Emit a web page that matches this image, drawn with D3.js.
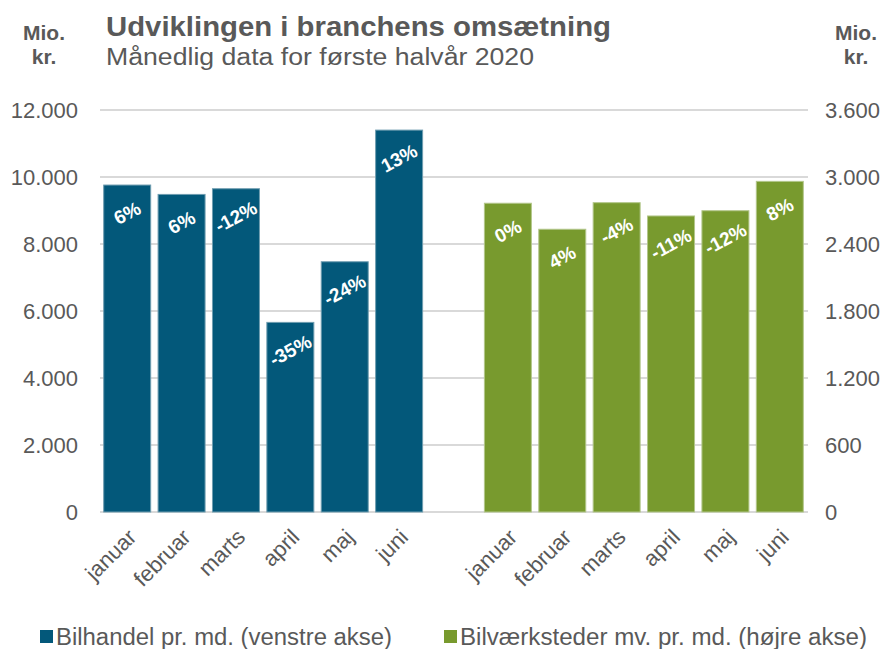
<!DOCTYPE html>
<html>
<head>
<meta charset="utf-8">
<script src="https://cdn.jsdelivr.net/npm/d3@7"></script>
<style>
  body { margin: 0; background: #fff; }
  text { font-family: "Liberation Sans", Arial, sans-serif; }
</style>
</head>
<body>
<div id="chart"></div>
<script>
// DATA
var months = ["januar", "februar", "marts", "april", "maj", "juni"];
var bilhandel = [9760, 9480, 9650, 5660, 7470, 11400];
var bilhandelPct = ["6%", "6%", "-12%", "-35%", "-24%", "13%"];
var vaerksted = [2765, 2532, 2770, 2651, 2698, 2961];
var vaerkstedPct = ["0%", "4%", "-4%", "-11%", "-12%", "8%"];
var leftTicks = [0, 2000, 4000, 6000, 8000, 10000, 12000];
var rightTicks = [0, 600, 1200, 1800, 2400, 3000, 3600];

var blue = "#03587a", green = "#789a2e", grey = "#595959";

var width = 888, height = 649;
var plot = {left: 100, right: 807, top: 110, bottom: 512};

var svg = d3.select("#chart").append("svg")
    .attr("width", width)
    .attr("height", height);

// build rows for both groups, one empty slot between them
var rows = [];
months.forEach(function(m, i) {
  rows.push({key: "L" + i, month: m, value: bilhandel[i], pct: bilhandelPct[i], side: "left"});
});
months.forEach(function(m, i) {
  rows.push({key: "R" + i, month: m, value: vaerksted[i], pct: vaerkstedPct[i], side: "right"});
});
var keys = rows.slice(0, 6).map(function(d) { return d.key; })
    .concat(["gap"])
    .concat(rows.slice(6).map(function(d) { return d.key; }));

var x = d3.scaleBand()
    .domain(keys)
    .range([plot.left, plot.right])
    .paddingInner(0.136)
    .paddingOuter(0.068);

var yL = d3.scaleLinear().domain([0, 12000]).range([plot.bottom, plot.top]);
var yR = d3.scaleLinear().domain([0, 3600]).range([plot.bottom, plot.top]);
var fmt = d3.formatLocale({decimal: ",", thousands: ".", grouping: [3], currency: ["", " kr."]}).format(",");

function yOf(d) { return d.side === "left" ? yL(d.value) : yR(d.value); }

// gridlines
svg.append("g")
    .selectAll("line")
    .data(leftTicks)
    .enter().append("line")
    .attr("x1", plot.left)
    .attr("x2", plot.right + 1)
    .attr("y1", function(d) { return yL(d); })
    .attr("y2", function(d) { return yL(d); })
    .style("stroke", "#d9d9d9")
    .style("stroke-width", 2);

// left axis
var axL = svg.append("g")
    .attr("transform", "translate(" + (plot.left - 22) + ",0)")
    .call(d3.axisLeft(yL).tickValues(leftTicks).tickFormat(fmt).tickSize(0).tickPadding(0));
axL.select(".domain").remove();
axL.selectAll("text")
    .style("font-size", "22px")
    .style("fill", grey)
    .attr("dy", "0.35em");

// right axis
var axR = svg.append("g")
    .attr("transform", "translate(" + (plot.right + 18) + ",0)")
    .call(d3.axisRight(yR).tickValues(rightTicks).tickFormat(fmt).tickSize(0).tickPadding(0));
axR.select(".domain").remove();
axR.selectAll("text")
    .style("font-size", "22px")
    .style("fill", grey)
    .attr("dy", "0.35em");

// bars
svg.selectAll(".bar")
    .data(rows)
    .enter().append("rect")
    .attr("class", "bar")
    .attr("x", function(d) { return x(d.key); })
    .attr("width", x.bandwidth())
    .attr("y", function(d) { return yOf(d); })
    .attr("height", function(d) { return plot.bottom - yOf(d); })
    .style("fill", function(d) { return d.side === "left" ? blue : green; })
    .style("stroke", function(d) { return d.side === "left" ? "#6f9db0" : "#b2c68a"; })
    .style("stroke-width", 1);

// percent labels
svg.selectAll(".pct")
    .data(rows)
    .enter().append("text")
    .attr("class", "pct")
    .attr("transform", function(d) {
      return "translate(" + (x(d.key) + x.bandwidth() / 2) + "," + (yOf(d) + 28) + ") rotate(-28)";
    })
    .attr("text-anchor", "middle")
    .attr("dy", "0.35em")
    .style("font-size", "19px")
    .style("font-weight", "bold")
    .style("fill", "#fff")
    .text(function(d) { return d.pct; });

// x labels
svg.selectAll(".xlab")
    .data(rows)
    .enter().append("text")
    .attr("class", "xlab")
    .attr("transform", function(d) {
      return "translate(" + (x(d.key) + x.bandwidth() / 2 + 5) + "," + (plot.bottom + 21) + ") rotate(-45)";
    })
    .attr("text-anchor", "end")
    .attr("dy", "0.35em")
    .style("font-size", "22px")
    .style("fill", grey)
    .text(function(d) { return d.month; });

// titles
svg.append("text")
    .attr("x", 106).attr("y", 36)
    .attr("textLength", 505).attr("lengthAdjust", "spacingAndGlyphs")
    .style("font-size", "28px").style("font-weight", "bold").style("fill", grey)
    .text("Udviklingen i branchens omsætning");
svg.append("text")
    .attr("x", 106).attr("y", 65)
    .attr("textLength", 428).attr("lengthAdjust", "spacingAndGlyphs")
    .style("font-size", "23px").style("fill", grey)
    .text("Månedlig data for første halvår 2020");

[44, 856].forEach(function(cx) {
  svg.append("text").attr("x", cx).attr("y", 40).attr("text-anchor", "middle")
      .style("font-size", "21px").style("font-weight", "bold").style("fill", grey).text("Mio.");
  svg.append("text").attr("x", cx).attr("y", 64).attr("text-anchor", "middle")
      .style("font-size", "21px").style("font-weight", "bold").style("fill", grey).text("kr.");
});

// legend
var legend = [
  {label: "Bilhandel pr. md. (venstre akse)", color: blue, x: 40, w: 336},
  {label: "Bilværksteder mv. pr. md. (højre akse)", color: green, x: 444, w: 407}
];
var lg = svg.selectAll(".legend")
    .data(legend)
    .enter().append("g")
    .attr("class", "legend")
    .attr("transform", function(d) { return "translate(" + d.x + ",636.5)"; });
lg.append("rect")
    .attr("x", 0).attr("y", -6.5)
    .attr("width", 13).attr("height", 13)
    .style("fill", function(d) { return d.color; });
lg.append("text")
    .attr("x", 16).attr("dy", "0.35em")
    .attr("textLength", function(d) { return d.w; })
    .attr("lengthAdjust", "spacingAndGlyphs")
    .style("font-size", "23px").style("fill", grey)
    .text(function(d) { return d.label; });
</script>
</body>
</html>
